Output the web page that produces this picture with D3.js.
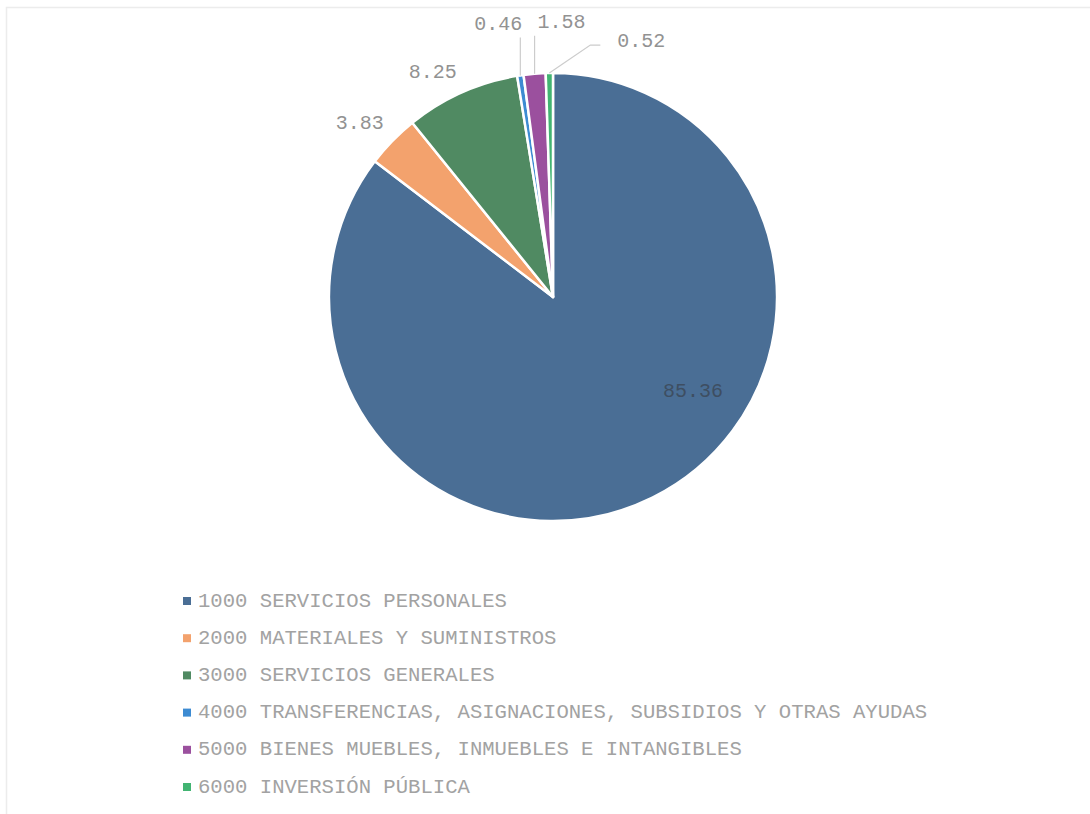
<!DOCTYPE html>
<html>
<head>
<meta charset="UTF-8">
<script src="https://d3js.org/d3.v7.min.js"></script>
<style>
	body{
		margin: 0;
		background-color: #ffffff;
	}
	svg text{
		font-family: "Liberation Mono", "DejaVu Sans Mono", monospace;
	}
</style>
</head>
<body>
<svg id="chart" width="1090" height="814"></svg>

<script>
	// Chart data
	var categories = [
		"1000 SERVICIOS PERSONALES",
		"2000 MATERIALES Y SUMINISTROS",
		"3000 SERVICIOS GENERALES",
		"4000 TRANSFERENCIAS, ASIGNACIONES, SUBSIDIOS Y OTRAS AYUDAS",
		"5000 BIENES MUEBLES, INMUEBLES E INTANGIBLES",
		"6000 INVERSIÓN PÚBLICA"
	];
	var values = [85.36, 3.83, 8.25, 0.46, 1.58, 0.52];
	var valueLabels = ["85.36", "3.83", "8.25", "0.46", "1.58", "0.52"];
	var colors = ["#4a6e95", "#f3a26d", "#508a62", "#3d8bd2", "#9b509e", "#42b472"];

	var svg = d3.select("#chart");
	var cx = 553, cy = 297, radius = 224;

	// faint frame of the original chart area
	svg.append("rect")
		.attr("x", 6.5).attr("y", 7.5)
		.attr("width", 1100).attr("height", 900)
		.attr("fill", "none")
		.attr("stroke", "#ececec")
		.attr("stroke-width", 1.5);

	var pie = d3.pie().sort(null).value(function(d){ return d; });
	var arcs = pie(values);

	var arc = d3.arc().innerRadius(0).outerRadius(radius);

	var g = svg.append("g").attr("transform", "translate(" + cx + "," + cy + ")");

	// Slices
	g.selectAll("path")
		.data(arcs).enter()
		.append("path")
		.attr("d", arc)
		.attr("fill", function(d, i){ return colors[i]; })
		.attr("stroke", "#ffffff")
		.attr("stroke-width", 2.5)
		.attr("stroke-linejoin", "round");

	// point on the pie at angle a (radians, clockwise from top) and radius r
	function polar(a, r){
		return [r * Math.sin(a), -r * Math.cos(a)];
	}
	function mid(d){ return (d.startAngle + d.endAngle) / 2; }

	// Label layout: "in" = inside slice, "out" = just outside, "lead" = leader line
	var labelLayout = [
		{type: "in", angle: 124 * Math.PI / 180, r: 169},
		{type: "out"},
		{type: "out"},
		{type: "lead", rise: 38, bend: 0, run: 0, anchor: "end", dx: 2, dy: -13},
		{type: "lead", rise: 38, bend: 0, run: 0, anchor: "start", dx: 3, dy: -13},
		{type: "lead", rise: 28, bend: 41, run: 10, anchor: "start", dx: 17, dy: -4}
	];

	var labels = g.append("g");
	arcs.forEach(function(d, i){
		var L = labelLayout[i];
		var a = mid(d);
		if(L.type == "in"){
			var p = polar(L.angle, L.r);
			labels.append("text")
				.attr("x", p[0]).attr("y", p[1])
				.attr("text-anchor", "middle")
				.attr("dominant-baseline", "central")
				.attr("font-size", "20px")
				.attr("fill", "#3e4e62")
				.text(valueLabels[i]);
		}
		else if(L.type == "out"){
			var p = polar(a, radius + 12);
			labels.append("text")
				.attr("x", p[0]).attr("y", p[1] - 9)
				.attr("text-anchor", "end")
				.attr("dominant-baseline", "central")
				.attr("font-size", "20px")
				.attr("fill", "#929292")
				.text(valueLabels[i]);
		}
		else{
			var p0 = polar(a, radius);
			var p1 = [p0[0] + L.bend, p0[1] - L.rise];
			var p2 = [p1[0] + L.run, p1[1]];
			labels.append("path")
				.attr("d", d3.line()([p0, p1, p2]))
				.attr("fill", "none")
				.attr("stroke", "#cccccc")
				.attr("stroke-width", 1.2);
			labels.append("text")
				.attr("x", p2[0] + L.dx).attr("y", p2[1] + L.dy)
				.attr("text-anchor", L.anchor)
				.attr("dominant-baseline", "central")
				.attr("font-size", "20px")
				.attr("fill", "#929292")
				.text(valueLabels[i]);
		}
	});

	// Legend
	var legendY = d3.scalePoint()
		.domain(categories)
		.range([601, 787]);

	var legend = svg.append("g");
	legend.selectAll("rect")
		.data(categories).enter()
		.append("rect")
		.attr("x", 183)
		.attr("y", function(d){ return legendY(d) - 4; })
		.attr("width", 8).attr("height", 8)
		.attr("fill", function(d, i){ return colors[i]; });

	legend.selectAll("text")
		.data(categories).enter()
		.append("text")
		.attr("x", 198)
		.attr("y", function(d){ return legendY(d); })
		.attr("dominant-baseline", "central")
		.attr("font-size", "20.6px")
		.attr("fill", "#a2a2a2")
		.text(function(d){ return d; });
</script>
</body>
</html>
